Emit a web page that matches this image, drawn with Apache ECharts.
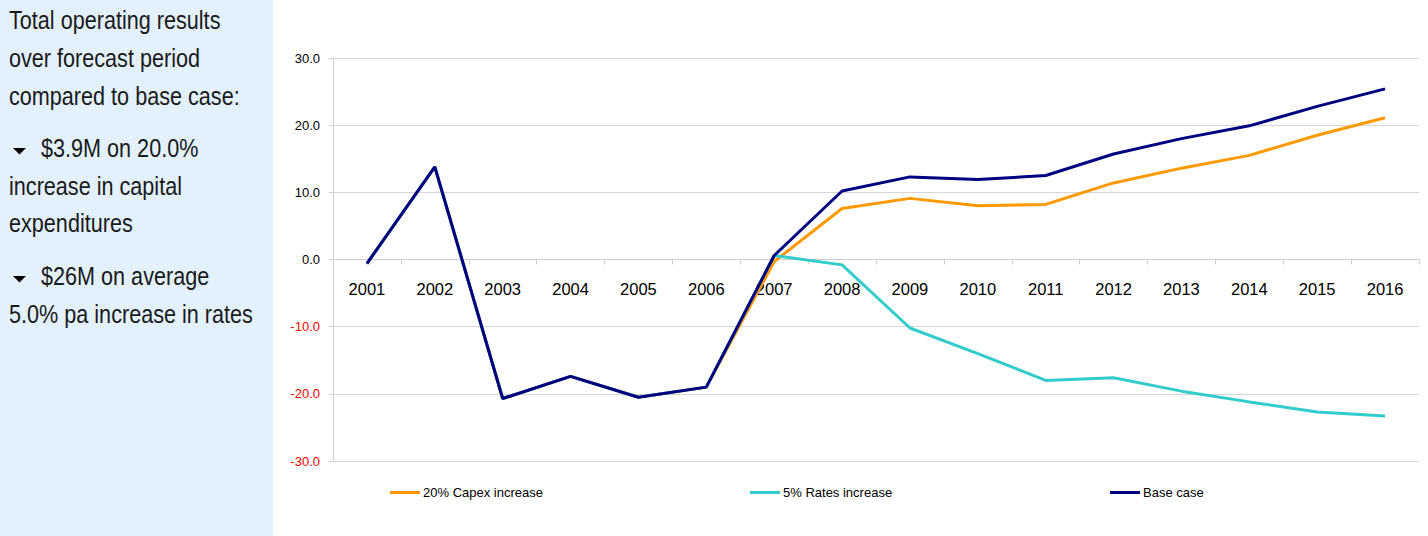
<!DOCTYPE html>
<html>
<head>
<meta charset="utf-8">
<title>Total operating results</title>
<script src="https://cdn.jsdelivr.net/npm/echarts@6/dist/echarts.min.js"></script>
<style>
  html, body { margin: 0; padding: 0; background: #ffffff; }
  #chart { width: 1428px; height: 536px; }
</style>
</head>
<body>
<div id="chart"></div>
<script>
// Years on the category axis
const years = ['2001', '2002', '2003', '2004', '2005', '2006', '2007', '2008',
               '2009', '2010', '2011', '2012', '2013', '2014', '2015', '2016'];

// Operating result ($M) per scenario
const capexIncrease = [-0.6, 13.8, -20.7, -17.4, -20.5, -19.0, -0.3, 7.6,
                       9.1, 8.0, 8.2, 11.4, 13.6, 15.5, 18.5, 21.1];
const ratesIncrease = [-0.6, 13.8, -20.7, -17.4, -20.5, -19.0, 0.6, -0.8,
                       -10.2, -14.0, -18.0, -17.6, -19.6, -21.2, -22.7, -23.3];
const baseCase      = [-0.6, 13.8, -20.7, -17.4, -20.5, -19.0, 0.6, 10.2,
                       12.3, 11.9, 12.5, 15.7, 18.0, 19.9, 22.8, 25.4];

const seriesNames = ['20% Capex increase', '5% Rates increase', 'Base case'];
const seriesColors = ['#FF9900', '#33CCCC', '#000080'];

// Y axis ticks
const yMin = -30, yMax = 30, yStep = 10;

// Side note text, one entry per line
const noteLines = [
  { text: 'Total operating results', bullet: false },
  { text: 'over forecast period', bullet: false },
  { text: 'compared to base case:', bullet: false },
  { text: '$3.9M on 20.0%', bullet: true },
  { text: 'increase in capital', bullet: false },
  { text: 'expenditures', bullet: false },
  { text: '$26M on average', bullet: true },
  { text: '5.0% pa increase in rates', bullet: false }
];
const noteBaselines = [29, 67, 105, 157, 195, 232, 285, 323];

// Condensed look: regular sans face squeezed horizontally
const noteFont = '25px "Liberation Sans", Arial, sans-serif';
const noteSqueeze = 0.865;

const noteGraphics = [
  { type: 'rect', shape: { x: 0, y: 0, width: 273, height: 536 },
    style: { fill: '#E3F1FD' }, silent: true }
];
noteLines.forEach((ln, i) => {
  const base = noteBaselines[i];
  noteGraphics.push({
    type: 'text', silent: true,
    x: ln.bullet ? 41 : 9,
    y: base - 9,
    scaleX: noteSqueeze,
    style: {
      x: 0, y: 0,
      text: ln.text, font: noteFont, fill: '#1a1a1a',
      align: 'left', verticalAlign: 'middle'
    }
  });
  if (ln.bullet) {
    noteGraphics.push({
      type: 'polygon', silent: true,
      shape: { points: [[13, base - 9], [26, base - 9], [19.5, base - 2.5]] },
      style: { fill: '#000000' }
    });
  }
});

const chart = echarts.init(document.getElementById('chart'), null, { renderer: 'svg' });

const gridTop = 58, gridBottom = 75, chartHeight = 536;
const plotHeight = chartHeight - gridTop - gridBottom;
// distance from the bottom of the plot up to the value 0
const zeroLift = plotHeight * (0 - yMin) / (yMax - yMin);

const legendLefts = [390, 750, 1110];

chart.setOption({
  animation: false,
  backgroundColor: '#ffffff',
  graphic: noteGraphics,
  grid: { left: 333, right: 9, top: gridTop, bottom: gridBottom, containLabel: false },
  legend: seriesNames.map((name, i) => ({
    data: [name],
    left: legendLefts[i],
    top: 486,
    icon: 'rect',
    itemWidth: 30,
    itemHeight: 3,
    itemGap: 0,
    textStyle: { fontFamily: '"Liberation Sans", Arial, sans-serif', fontSize: 13, color: '#000000', padding: [0, 0, 0, -2] },
    padding: 0,
    selectedMode: false
  })),
  xAxis: {
    type: 'category',
    data: years,
    boundaryGap: true,
    position: 'bottom',
    offset: -zeroLift,
    axisLine: { onZero: false, lineStyle: { color: '#d0d0d0', width: 1 } },
    axisTick: { show: true, length: 5, lineStyle: { color: '#d0d0d0' } },
    axisLabel: {
      fontFamily: '"Liberation Sans", Arial, sans-serif',
      fontSize: 16.5, color: '#000000', margin: 21
    },
    splitLine: { show: false }
  },
  yAxis: {
    type: 'value',
    min: yMin, max: yMax, interval: yStep,
    axisLine: { show: true, lineStyle: { color: '#d0d0d0', width: 1 } },
    axisTick: { show: true, length: 4, lineStyle: { color: '#d0d0d0' } },
    axisLabel: {
      fontFamily: '"Liberation Sans", Arial, sans-serif',
      fontSize: 13, margin: 13,
      formatter: v => v.toFixed(1),
      color: v => (Number(v) < 0 ? '#FF0000' : '#000000')
    },
    splitLine: { show: true, lineStyle: { color: '#d6d6d6', width: 1 } }
  },
  series: [capexIncrease, ratesIncrease, baseCase].map((values, i) => ({
    name: seriesNames[i],
    type: 'line',
    data: values,
    showSymbol: false,
    symbol: 'none',
    lineStyle: { color: seriesColors[i], width: 3 },
    itemStyle: { color: seriesColors[i] },
    z: 2 + i
  }))
});
</script>
</body>
</html>
